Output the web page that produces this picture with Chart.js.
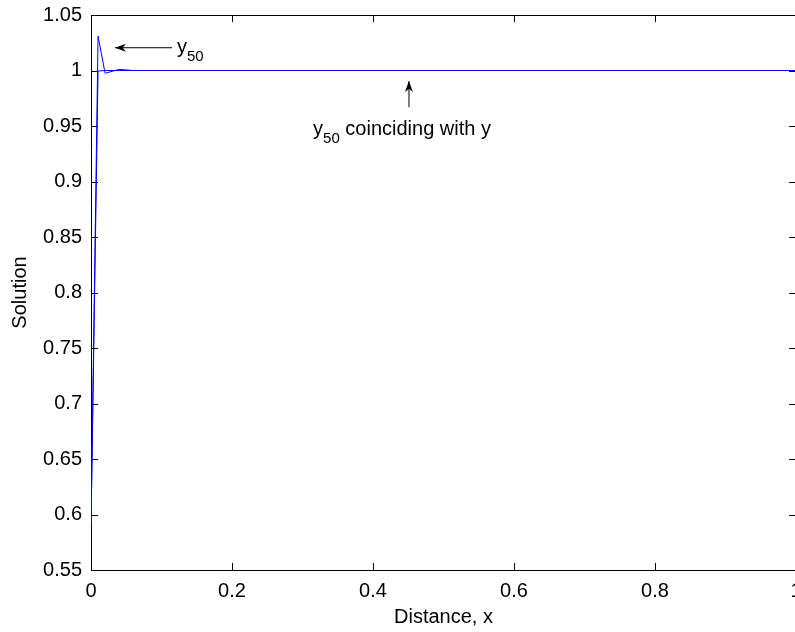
<!DOCTYPE html>
<html>
<head>
<meta charset="utf-8">
<script src="https://cdn.jsdelivr.net/npm/chart.js@4"></script>
<style>
html, body { margin: 0; padding: 0; background: #fff; overflow: hidden; }
#wrap { width: 830px; height: 632px; position: relative; }
</style>
</head>
<body>
<div id="wrap"><canvas id="solChart"></canvas></div>
<script>
// ---- data ----
const exactX = [0, 0.01, 0.02, 1];
const exactY = [0.59, 0.9995, 1.0, 1.0];

const y50X = [0, 0.01, 0.02, 0.04, 0.06, 1];
const y50Y = [0.59, 1.031, 0.9975, 1.001, 1.0, 1.0];

const xTicks = [0, 0.2, 0.4, 0.6, 0.8, 1];
const yTicks = [0.55, 0.6, 0.65, 0.7, 0.75, 0.8, 0.85, 0.9, 0.95, 1, 1.05];

const FONT = 'Liberation Sans, Arial, Helvetica, sans-serif';

// annotations (data coordinates)
const notes = [
    { from: [0.115, 1.0205], to: [0.034, 1.0205], at: [0.122, 1.0158], main: 'y', sub: '50', rest: '' },
    { from: [0.451, 0.967], to: [0.451, 0.9905], at: [0.315, 0.9419], main: 'y', sub: '50', rest: ' coinciding with y' }
];

function toPoints(xs, ys) {
    return xs.map((x, i) => ({ x: x, y: ys[i] }));
}

// box + inward tick marks, matlab style
const frameTicks = {
    id: 'frameTicks',
    beforeDatasetsDraw(c) {
        const { ctx, chartArea: a, scales: { x, y } } = c;
        const len = 7;
        ctx.save();
        ctx.strokeStyle = '#000';
        ctx.lineWidth = 1;
        ctx.strokeRect(a.left + 0.5, a.top + 0.5, a.right - a.left, a.bottom - a.top);
        ctx.beginPath();
        x.ticks.forEach(t => {
            const px = Math.round(x.getPixelForValue(t.value)) + 0.5;
            ctx.moveTo(px, a.bottom); ctx.lineTo(px, a.bottom - len);
            ctx.moveTo(px, a.top); ctx.lineTo(px, a.top + len);
        });
        y.ticks.forEach(t => {
            const py = Math.round(y.getPixelForValue(t.value)) + 0.5;
            ctx.moveTo(a.left, py); ctx.lineTo(a.left + len, py);
            ctx.moveTo(a.right, py); ctx.lineTo(a.right - len, py);
        });
        ctx.stroke();
        ctx.restore();
    }
};

function drawArrow(ctx, x0, y0, x1, y1) {
    const ang = Math.atan2(y1 - y0, x1 - x0);
    const hl = 11, hw = 4;
    ctx.beginPath();
    ctx.moveTo(x0, y0);
    ctx.lineTo(x1, y1);
    ctx.stroke();
    ctx.beginPath();
    ctx.moveTo(x1, y1);
    ctx.lineTo(x1 - hl * Math.cos(ang) + hw * Math.sin(ang), y1 - hl * Math.sin(ang) - hw * Math.cos(ang));
    ctx.lineTo(x1 - hl * 0.7 * Math.cos(ang), y1 - hl * 0.7 * Math.sin(ang));
    ctx.lineTo(x1 - hl * Math.cos(ang) - hw * Math.sin(ang), y1 - hl * Math.sin(ang) + hw * Math.cos(ang));
    ctx.closePath();
    ctx.fill();
}

const notesPlugin = {
    id: 'notes',
    afterDatasetsDraw(c) {
        const { ctx, scales: { x, y } } = c;
        ctx.save();
        ctx.strokeStyle = '#000';
        ctx.fillStyle = '#000';
        ctx.lineWidth = 1;
        notes.forEach(n => {
            drawArrow(ctx,
                x.getPixelForValue(n.from[0]), y.getPixelForValue(n.from[1]),
                x.getPixelForValue(n.to[0]), y.getPixelForValue(n.to[1]));
            let px = x.getPixelForValue(n.at[0]);
            const py = y.getPixelForValue(n.at[1]);
            ctx.textBaseline = 'alphabetic';
            ctx.textAlign = 'left';
            ctx.font = '20px ' + FONT;
            ctx.fillText(n.main, px, py);
            px += ctx.measureText(n.main).width;
            ctx.font = '15px ' + FONT;
            ctx.fillText(n.sub, px, py + 8);
            px += ctx.measureText(n.sub).width;
            if (n.rest) {
                ctx.font = '20px ' + FONT;
                ctx.fillText(n.rest, px, py);
            }
        });
        ctx.restore();
    }
};

const ctx = document.getElementById('solChart').getContext('2d');

new Chart(ctx, {
    type: 'line',
    data: {
        datasets: [
            {
                label: 'y',
                data: toPoints(exactX, exactY),
                borderColor: '#0000ff',
                borderWidth: 1,
                pointRadius: 0,
                tension: 0,
                fill: false
            },
            {
                label: 'y50',
                data: toPoints(y50X, y50Y),
                borderColor: '#0000ff',
                borderWidth: 1,
                pointRadius: 0,
                tension: 0,
                fill: false
            }
        ]
    },
    options: {
        responsive: true,
        maintainAspectRatio: false,
        animation: false,
        layout: { padding: { top: 15, right: 34, left: 0, bottom: 0 } },
        plugins: {
            legend: { display: false },
            tooltip: { enabled: false }
        },
        scales: {
            x: {
                type: 'linear',
                min: 0,
                max: 1,
                afterBuildTicks: (s) => { s.ticks = xTicks.map(v => ({ value: v })); },
                afterFit: (s) => { s.height = 62; },
                grid: { display: false },
                border: { display: false },
                ticks: {
                    color: '#000',
                    padding: 1,
                    maxRotation: 0,
                    autoSkip: false,
                    font: { family: FONT, size: 20 },
                    callback: (v) => String(v)
                },
                title: {
                    display: true,
                    text: 'Distance, x',
                    color: '#000',
                    font: { family: FONT, size: 20 },
                    padding: { top: 0, bottom: 3 }
                }
            },
            y: {
                type: 'linear',
                min: 0.55,
                max: 1.05,
                afterBuildTicks: (s) => { s.ticks = yTicks.map(v => ({ value: v })); },
                afterFit: (s) => { s.width = 91; },
                grid: { display: false },
                border: { display: false },
                ticks: {
                    color: '#000',
                    padding: 1,
                    autoSkip: false,
                    font: { family: FONT, size: 20 },
                    callback: (v) => String(v)
                },
                title: {
                    display: true,
                    text: 'Solution',
                    color: '#000',
                    font: { family: FONT, size: 20 },
                    padding: { top: 8, bottom: 0 }
                }
            }
        }
    },
    plugins: [frameTicks, notesPlugin]
});
</script>
</body>
</html>
